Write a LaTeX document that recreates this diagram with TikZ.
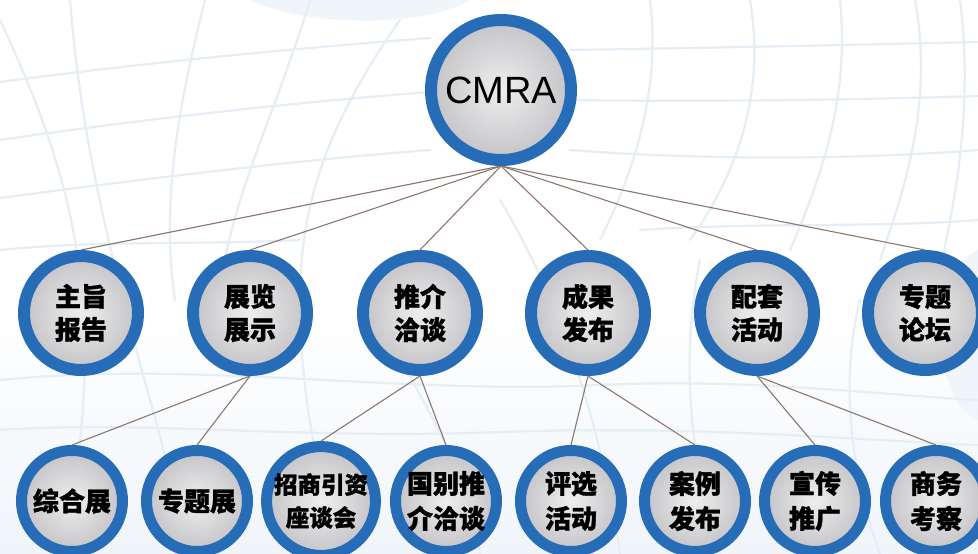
\documentclass[tikz,border=0pt]{standalone}
\usepackage{fontspec}
\setmainfont{Liberation Sans}
\newfontfamily\cjk{Noto Sans CJK SC}[BoldFeatures={FakeBold=1.2}]
\pgfdeclarelayer{bg}
\pgfdeclarelayer{lines}
\pgfsetlayers{bg,lines,main}
\definecolor{ringblue}{RGB}{38,108,183}
\definecolor{discin}{RGB}{238,238,238}
\definecolor{discout}{RGB}{196,196,200}
\definecolor{connc}{RGB}{140,118,112}
\definecolor{gridc}{RGB}{229,237,245}
\definecolor{bgtint}{RGB}{240,245,250}
\tikzset{
  disc/.style={circle, draw=ringblue, inner sep=0pt, shading=radial,
    inner color=discin, outer color=discout, text=black, align=center},
  toplvl/.style={disc, minimum size=140pt, line width=12pt,
    font=\fontsize{38}{40}\selectfont},
  midlvl/.style={disc, minimum size=114pt, line width=12pt,
    font=\cjk\bfseries\fontsize{26}{33}\selectfont},
  lowlvl/.style={disc, minimum size=101pt, line width=11pt,
    font=\cjk\bfseries\fontsize{26}{35}\selectfont},
  lowsmall/.style={lowlvl, font=\cjk\bfseries\fontsize{23.5}{33}\selectfont},
  conn/.style={draw=connc, line width=1.1pt},
  gridline/.style={draw=gridc, line width=2.2pt, line cap=round}
}
\begin{document}
\begin{tikzpicture}[x=1pt,y=-1pt]
\useasboundingbox (0,0) rectangle (978,554);
\begin{pgfonlayer}{bg}
  \fill[white] (0,0) rectangle (978,554);
  \shade[top color=white, bottom color=bgtint] (0,300) rectangle (978,554);
  \fill[bgtint] (250,0) .. controls (300,25) and (420,30) .. (470,0) -- cycle;
  \fill[bgtint] (978,250) .. controls (930,270) and (930,400) .. (978,420) -- cycle;
  % wireframe, horizontal-ish
  \draw[gridline] (0,82) .. controls (150,62) and (300,48) .. (430,38);
  \draw[gridline] (0,140) .. controls (150,118) and (300,102) .. (430,92);
  \draw[gridline] (0,198) .. controls (150,178) and (300,160) .. (430,150);
  \draw[gridline] (570,50) .. controls (700,48) and (850,45) .. (978,42);
  \draw[gridline] (570,100) .. controls (700,102) and (850,100) .. (978,96);
  \draw[gridline] (570,150) .. controls (700,160) and (850,160) .. (978,150);
  \draw[gridline] (0,380) .. controls (200,360) and (400,395) .. (600,385) .. controls (750,378) and (880,395) .. (978,400);
  \draw[gridline] (0,430) .. controls (150,420) and (300,440) .. (500,432) .. controls (700,425) and (850,440) .. (978,445);
  \draw[gridline] (0,250) .. controls (100,240) and (200,245) .. (300,240);
  \draw[gridline] (640,230) .. controls (760,222) and (880,228) .. (978,220);
  % wireframe, vertical-ish
  \draw[gridline] (70,0) .. controls (80,120) and (100,220) .. (150,400) .. controls (170,470) and (180,520) .. (190,554);
  \draw[gridline] (205,0) .. controls (180,100) and (160,200) .. (175,300);
  \draw[gridline] (310,0) .. controls (280,100) and (240,180) .. (225,260);
  \draw[gridline] (400,20) .. controls (330,120) and (300,200) .. (300,300) .. controls (300,400) and (320,480) .. (340,554);
  \draw[gridline] (0,20) .. controls (60,150) and (120,300) .. (60,554);
  \draw[gridline] (650,0) .. controls (660,80) and (640,160) .. (600,240);
  \draw[gridline] (750,0) .. controls (765,90) and (740,170) .. (690,240);
  \draw[gridline] (840,0) .. controls (850,100) and (820,180) .. (790,250);
  \draw[gridline] (915,0) .. controls (935,110) and (900,200) .. (880,260);
  \draw[gridline] (960,0) .. controls (975,120) and (950,220) .. (940,270);
  \draw[gridline] (500,200) .. controls (560,300) and (600,420) .. (620,554);
  \draw[gridline] (700,260) .. controls (680,360) and (690,460) .. (720,554);
  \draw[gridline] (860,300) .. controls (840,380) and (850,470) .. (880,554);
  \draw[gridline] (380,320) .. controls (420,400) and (470,470) .. (480,554);
\end{pgfonlayer}

\node[toplvl] (cmra) at (501,90) {CMRA};

\node[midlvl] (m1) at (81,313)  {主旨\\报告};
\node[midlvl] (m2) at (250,313) {展览\\展示};
\node[midlvl] (m3) at (420,313) {推介\\洽谈};
\node[midlvl] (m4) at (588,313) {成果\\发布};
\node[midlvl] (m5) at (757,313) {配套\\活动};
\node[midlvl] (m6) at (925,313) {专题\\论坛};

\node[lowlvl]   (b1) at (72,501)  {综合展};
\node[lowlvl]   (b2) at (197,501) {专题展};
\node[lowsmall] (b3) at (321,501) {招商引资\\座谈会};
\node[lowlvl]   (b4) at (446,501) {国别推\\介洽谈};
\node[lowlvl]   (b5) at (571,501) {评选\\活动};
\node[lowlvl]   (b6) at (695,501) {案例\\发布};
\node[lowlvl]   (b7) at (815,501) {宣传\\推广};
\node[lowlvl]   (b8) at (936,501) {商务\\考察};

\begin{pgfonlayer}{lines}
  \foreach \m in {m1,m2,m3,m4,m5,m6}
    \draw[conn] (cmra.south) -- (\m.north);
  \draw[conn] (m2.south) -- (b1.north);
  \draw[conn] (m2.south) -- (b2.north);
  \draw[conn] (m3.south) -- (b3.north);
  \draw[conn] (m3.south) -- (b4.north);
  \draw[conn] (m4.south) -- (b5.north);
  \draw[conn] (m4.south) -- (b6.north);
  \draw[conn] (m5.south) -- (b7.north);
  \draw[conn] (m5.south) -- (b8.north);
\end{pgfonlayer}
\end{tikzpicture}
\end{document}
